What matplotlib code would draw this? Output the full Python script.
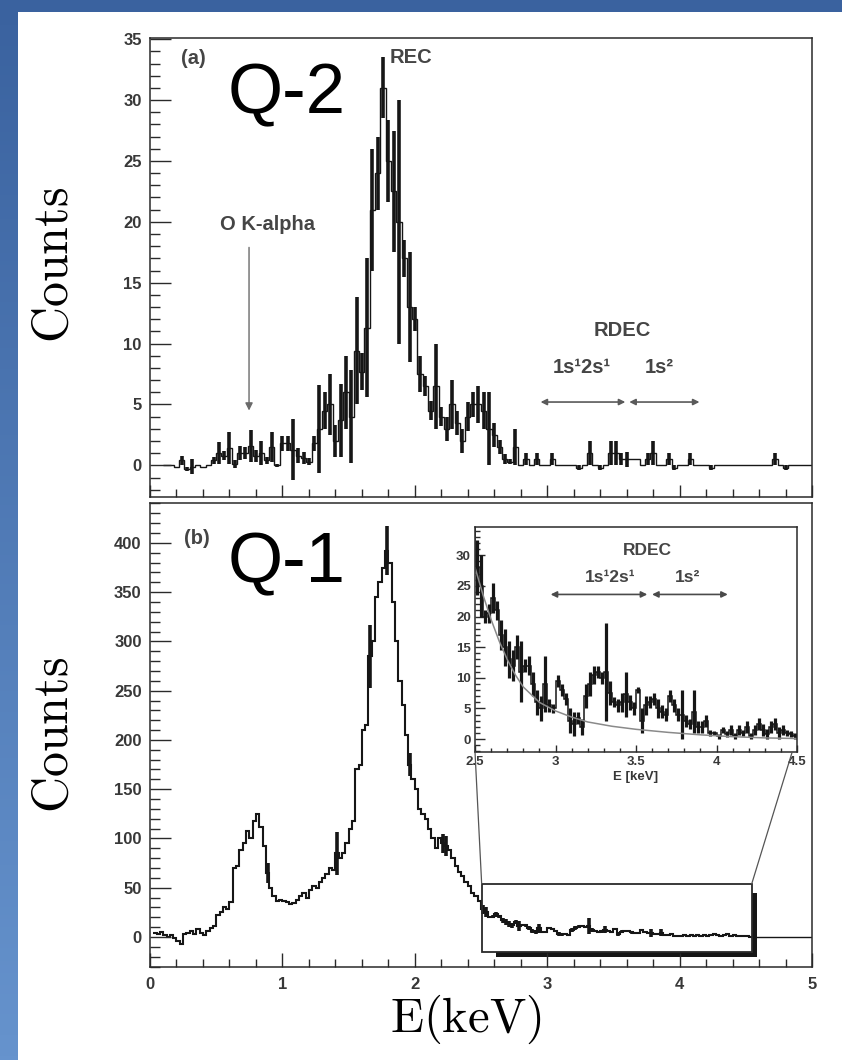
import numpy as np
import matplotlib
matplotlib.use("Agg")
import matplotlib.pyplot as plt
from matplotlib.patches import Rectangle, ConnectionPatch
from matplotlib.colors import LinearSegmentedColormap
from matplotlib.ticker import MultipleLocator, FuncFormatter

plt.rcParams['font.family'] = ['Liberation Sans', 'DejaVu Sans']
plt.rcParams['mathtext.fontset'] = 'cm'

# ---------------- data ----------------
# (a) Q-2 spectrum, 0.04 keV bins from 0.10 keV
q2_bin_start = 0.10
q2_bin_width = 0.04
q2_counts = [
    0, 0, -0.1, 0.4, -0.3, -0.1, 0, -0.1, 0, 0.4,
    1.0, 0.8, 1.4, 0.1, 1.0, 1.0, 1.6, 0.8, 1.0, 0.4,
    1.5, 0.0, 1.8, 1.8, 1.3, 0.8, 0.6, 0.3, 1.8, 3.0,
    4.5, 5.0, 2.0, 3.7, 6.0, 4.0, 9.4, 7.7, 11.3, 21.0,
    24.0, 31.0, 25.0, 22.5, 20.0, 17.0, 13.0, 12.0, 7.5, 6.5,
    4.5, 6.5, 4.0, 3.0, 5.0, 3.5, 2.0, 4.0, 5.0, 5.0,
    4.5, 3.0, 2.5, 1.5, 0.5, 0.3, 1.5, 0, 0.5, 0,
    0.5, 0, 0, 0.5, 0, 0, 0, 0, -0.2, 0,
    1.0, 0, -0.2, 0, 1.0, 1.0, 0.5, 0.5, 0.5, 0.5,
    0, 0.5, 1.0, 0, 0, 0.5, -0.2, 0, 0, 0.5,
    0, 0, 0, -0.2, 0, 0, 0, 0, 0, 0,
    0, 0, 0, 0, 0, 0.5, 0, -0.2, 0, 0,
    0, 0, 0,
]
q2_errors = [
    0, 0, 0, 0.4, 0.2, 0.6, 0, 0, 0, 0.3,
    0.9, 0.4, 1.3, 0.3, 0.6, 0.5, 1.3, 0.5, 1.0, 0.3,
    1.2, 0.1, 0.6, 0.6, 2.5, 0.6, 0.5, 0.3, 0.6, 3.6,
    1.5, 2.5, 1.3, 3.0, 3.0, 3.8, 4.4, 1.5, 5.7, 5.0,
    3.0, 2.5, 3.4, 5.0, 10.0, 1.5, 4.5, 1.0, 1.5, 0.8,
    0.8, 3.5, 0.8, 1.0, 2.0, 1.0, 1.0, 1.2, 1.0, 1.5,
    1.5, 3.0, 1.0, 0.6, 0.4, 0.2, 1.5, 0, 0.5, 0,
    0.5, 0, 0, 0.5, 0, 0, 0, 0, 0.2, 0,
    1.0, 0, 0.2, 0, 1.0, 1.0, 0.5, 0.6, 0, 0,
    0, 0.5, 1.0, 0, 0, 0.5, 0.2, 0, 0, 0.5,
    0, 0, 0, 0.2, 0, 0, 0, 0, 0, 0,
    0, 0, 0, 0, 0, 0.5, 0, 0.2, 0, 0,
    0, 0, 0,
]

# (b) Q-1 spectrum, 0.025 keV bins from 0.025 keV
q1_bin_start = 0.025
q1_bin_width = 0.025
q1_counts = [
    4, 3, 5, 2, 0, 2, -1, -4, -7, 3,
    4, 6, 3, 8, 4, 2, 6, 9, 11, 22,
    25, 30, 28, 35, 70, 72, 88, 95, 108, 100,
    118, 125, 112, 92, 65, 50, 42, 37, 38, 36,
    35, 33, 34, 38, 42, 45, 40, 48, 52, 50,
    56, 60, 64, 70, 68, 85, 80, 85, 95, 110,
    118, 170, 175, 210, 215, 285, 300, 345, 360, 375,
    392, 380, 340, 300, 260, 235, 205, 175, 160, 150,
    130, 125, 120, 110, 100, 90, 100, 95, 92, 88,
    80, 72, 66, 62, 56, 52, 45, 42, 36,
    28, 25, 20, 20.5, 23, 21, 17, 15, 13, 12,
    15, 11, 12, 12, 9, 6, 5, 9, 5.5, 5,
    9.5, 8, 6.5, 3, 2.5, 3.5, 2, 7, 9, 10.5,
    11, 10, 11, 7.5, 6, 5.5, 6, 7.3, 6, 5,
    8, 3, 5.5, 6, 6.5, 5, 4.5, 4, 7, 5.5,
    4, 4, 3, 2.5, 4.5, 2, 2, 3, 1, 1,
    0.5, 1.5, 0.8, 1.5, 0.5, 1.5, 1, 2, 0.5, 1.5,
    2.5, 1.5, 0.8, 2, 2.5, 1, 1.5, 1, 0.8, 0.5,
    0.5, 0.3, 0.3,
]
q1_errors = [
    0, 0, 0, 0, 0, 0, 0, 0, 0, 0,
    0, 0, 0, 0, 0, 0, 0, 0, 0, 0,
    0, 0, 0, 0, 0, 0, 0, 0, 0, 0,
    0, 0, 0, 0, 10, 0, 0, 0, 0, 0,
    0, 0, 0, 0, 0, 0, 0, 0, 0, 0,
    0, 0, 0, 0, 0, 22, 0, 0, 0, 0,
    0, 0, 0, 0, 0, 32, 0, 0, 0, 0,
    25, 0, 0, 0, 0, 0, 0, 12, 0, 0,
    0, 0, 0, 0, 0, 0, 0, 10, 10, 0,
    0, 0, 0, 0, 0, 0, 0, 0, 0,
    4.5, 5, 1, 1.5, 2.5, 1.5, 2.5, 3, 3, 2.5,
    2, 5, 1, 1.5, 2, 2, 2, 4.5, 1, 0.8,
    1, 1, 1, 2, 2, 1, 1.3, 2, 2, 1.5,
    1, 1, 8, 2, 0.8, 1, 1.5, 3.7, 1.2, 1,
    0.5, 2, 1.5, 1, 1, 1.5, 1, 1, 1, 1,
    1, 4, 1, 0.8, 3.5, 1, 1, 1, 0.5, 0.4,
    0.4, 0.5, 0.5, 0.8, 0.5, 0.8, 0.5, 1, 0.5, 0.8,
    1, 1, 0.8, 1, 1, 1, 0.8, 0.5, 0.5, 0.5,
    0, 0, 0,
]

# smooth background fit shown in the RDEC inset
bg_energy = [2.5, 2.55, 2.6, 2.65, 2.7, 2.75, 2.8, 2.9, 3.0, 3.1,
             3.2, 3.35, 3.5, 3.7, 3.9, 4.1, 4.3, 4.5]
bg_counts = [28, 23.5, 19.5, 16, 13, 10.5, 8.5, 6.0, 4.6, 3.6,
             2.8, 2.1, 1.6, 1.1, 0.7, 0.4, 0.2, 0.1]

# ---------------- style ----------------
INK = '#161616'
TXT = '#454545'
TICK_TXT = '#383838'
W, H = 842, 1060

fig = plt.figure(figsize=(W / 100, H / 100), dpi=100)

# slide background: blue frame with vertical gradient, white page on top
bg_ax = fig.add_axes([0, 0, 1, 1], zorder=-10)
slide_cmap = LinearSegmentedColormap.from_list('slide', ['#3a629f', '#6693cd'])
bg_ax.imshow(np.linspace(0, 1, 256)[:, None], cmap=slide_cmap, aspect='auto',
             extent=[0, 1, 0, 1], origin='upper')
bg_ax.set_axis_off()
fig.add_artist(Rectangle((18 / W, 0), 1 - 18 / W, 1 - 12 / H, transform=fig.transFigure,
                         facecolor='white', edgecolor='none', zorder=-5))

ax_a = fig.add_axes([150 / W, 1 - 497 / H, 662 / W, 459 / H])
ax_b = fig.add_axes([150 / W, 1 - 967 / H, 662 / W, 464 / H])
ax_in = fig.add_axes([475 / W, 1 - 752 / H, 322 / W, 225 / H], zorder=5)


def draw_hist(ax, start, width, counts, errors, lw, elw):
    counts = np.asarray(counts, dtype=float)
    errors = np.asarray(errors, dtype=float)
    edges = start + width * np.arange(len(counts) + 1)
    centers = edges[:-1] + width / 2
    ax.stairs(counts, edges, color=INK, linewidth=lw, baseline=None)
    show = errors > 0
    ax.errorbar(centers[show], counts[show], yerr=errors[show], fmt='none',
                ecolor=INK, elinewidth=elw, capsize=0)


def style_axes(ax, ylen, xlen, lsize, pad_y, pad_x):
    for s in ax.spines.values():
        s.set_linewidth(1.1)
        s.set_color('#2a2a2a')
    ax.tick_params(axis='both', which='both', direction='in', top=False, right=False,
                   width=1.0, color='#2a2a2a', labelcolor=TICK_TXT, labelsize=lsize)
    ax.tick_params(axis='y', which='major', length=ylen[0], pad=pad_y)
    ax.tick_params(axis='y', which='minor', length=ylen[1])
    ax.tick_params(axis='x', which='major', length=xlen[0], pad=pad_x)
    ax.tick_params(axis='x', which='minor', length=xlen[1])
    for lab in ax.get_xticklabels() + ax.get_yticklabels():
        lab.set_fontweight('bold')


# ---------------- panel (a): Q-2 ----------------
draw_hist(ax_a, q2_bin_start, q2_bin_width, q2_counts, q2_errors, lw=1.0, elw=2.6)
ax_a.set_xlim(0, 5)
ax_a.set_ylim(-2.6, 35.1)
ax_a.xaxis.set_major_locator(MultipleLocator(1))
ax_a.xaxis.set_minor_locator(MultipleLocator(0.2))
ax_a.yaxis.set_major_locator(MultipleLocator(5))
ax_a.yaxis.set_minor_locator(MultipleLocator(1))
style_axes(ax_a, (15, 7), (9, 5.5), 12, 6, 7)
ax_a.tick_params(labelbottom=False)

ann = dict(fontsize=14.5, fontweight='bold', color=TXT, ha='center', va='center')
ax_a.text(0.325, 33.4, '(a)', **ann)
ax_a.text(1.97, 33.5, 'REC', **ann)
ax_a.text(0.89, 19.8, 'O K-alpha', **ann)
ax_a.annotate('', xy=(0.748, 4.5), xytext=(0.748, 17.9),
              arrowprops=dict(arrowstyle='-|>', color='#6a6a6a', lw=1.0,
                              mutation_scale=11, shrinkA=0, shrinkB=0))
ax_a.text(3.57, 11.1, 'RDEC', **ann)
ax_a.text(3.26, 8.0, '1s\u00b92s\u00b9', **ann)
ax_a.text(3.85, 8.0, '1s\u00b2', **ann)
for x0, x1 in [(2.95, 3.59), (3.62, 4.15)]:
    ax_a.annotate('', xy=(x1, 5.2), xytext=(x0, 5.2),
                  arrowprops=dict(arrowstyle='<|-|>', color='#5a5a5a', lw=1.2,
                                  mutation_scale=9, shrinkA=0, shrinkB=0))
ax_a.text(0.59, 28.9, 'Q-2', fontsize=51, color='black', ha='left', va='baseline')

# ---------------- panel (b): Q-1 ----------------
draw_hist(ax_b, q1_bin_start, q1_bin_width, q1_counts, q1_errors, lw=1.5, elw=2.6)
ax_b.axhline(0, xmin=0.91, xmax=1.0, color=INK, lw=1.0)
ax_b.set_xlim(0, 5)
ax_b.set_ylim(-30.5, 440.5)
ax_b.xaxis.set_major_locator(MultipleLocator(1))
ax_b.xaxis.set_minor_locator(MultipleLocator(0.2))
ax_b.yaxis.set_major_locator(MultipleLocator(50))
ax_b.yaxis.set_minor_locator(MultipleLocator(10))
style_axes(ax_b, (15, 7), (10, 5.5), 12, 6, 7)
ax_b.text(0.355, 404, '(b)', **ann)
ax_b.text(0.59, 360, 'Q-1', fontsize=51, color='black', ha='left', va='baseline')

# zoom window with its drop shadow
ax_b.add_patch(Rectangle((2.61, -20.3), 1.975, 5.3, facecolor=INK, edgecolor='none'))
ax_b.add_patch(Rectangle((4.545, -20.3), 0.04, 65.0, facecolor=INK, edgecolor='none'))
ax_b.add_patch(Rectangle((2.505, -15.0), 2.04, 69.0, facecolor='none',
                         edgecolor='#2a2a2a', lw=1.3, zorder=4))

# ---------------- inset: RDEC region ----------------
draw_hist(ax_in, q1_bin_start, q1_bin_width, q1_counts, q1_errors, lw=1.1, elw=2.3)
ax_in.plot(bg_energy, bg_counts, color='#8a8a8a', lw=1.1)
ax_in.set_xlim(2.5, 4.5)
ax_in.set_ylim(-2.1, 34.6)
ax_in.xaxis.set_major_locator(MultipleLocator(0.5))
ax_in.xaxis.set_minor_locator(MultipleLocator(0.1))
ax_in.xaxis.set_major_formatter(FuncFormatter(lambda v, p: f'{v:g}'))
ax_in.yaxis.set_major_locator(MultipleLocator(5))
ax_in.yaxis.set_minor_locator(MultipleLocator(1))
style_axes(ax_in, (7, 3.5), (5, 3), 9.5, 3, 3)
ax_in.set_xlabel('E [keV]', fontsize=9.5, fontweight='bold', color=TICK_TXT, labelpad=2)
ann_in = dict(fontsize=12.5, fontweight='bold', color=TXT, ha='center', va='center')
ax_in.text(3.57, 30.8, 'RDEC', **ann_in)
ax_in.text(3.34, 26.4, '1s\u00b92s\u00b9', **ann_in)
ax_in.text(3.82, 26.4, '1s\u00b2', **ann_in)
for x0, x1 in [(2.97, 3.57), (3.60, 4.07)]:
    ax_in.annotate('', xy=(x1, 23.6), xytext=(x0, 23.6),
                   arrowprops=dict(arrowstyle='<|-|>', color='#4a4a4a', lw=1.2,
                                   mutation_scale=9, shrinkA=0, shrinkB=0))

# lines joining the zoom window to the inset
for xa, xb in [(0.0, 2.505), (0.985, 4.545)]:
    fig.add_artist(ConnectionPatch(xyA=(xa, 0), coordsA=ax_in.transAxes,
                                   xyB=(xb, 54.0), coordsB=ax_b.transData,
                                   color='#555555', lw=0.9, zorder=6))

# ---------------- axis titles ----------------
fig.text(55 / W, 1 - 265 / H, r'$\mathrm{Counts}$', fontsize=36, rotation=90,
         ha='center', va='center')
fig.text(55 / W, 1 - 735 / H, r'$\mathrm{Counts}$', fontsize=36, rotation=90,
         ha='center', va='center')
fig.text(466 / W, 1 - 1019 / H, r'$\mathrm{E(keV)}$', fontsize=35,
         ha='center', va='center')

fig.savefig('out.png', dpi=100)
